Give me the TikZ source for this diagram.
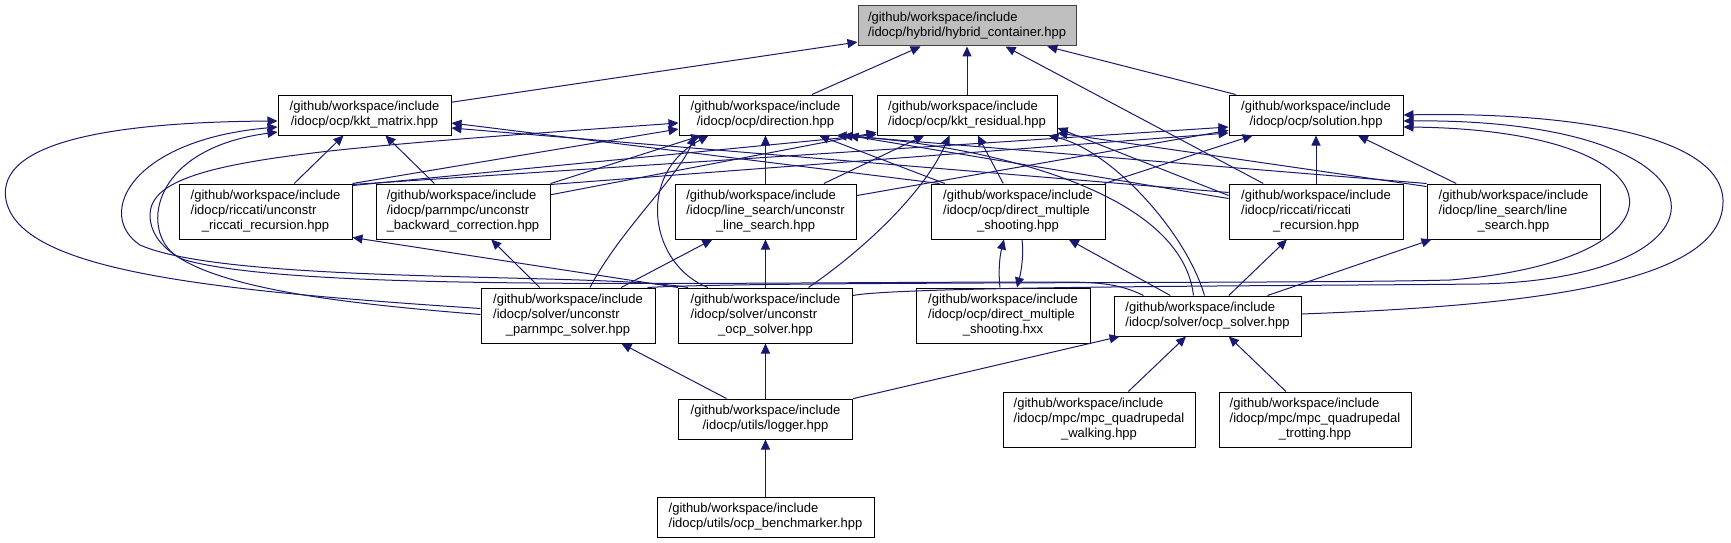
\documentclass[tikz,border=0pt]{standalone}
\usepackage{fontspec}
\setmainfont{Liberation Sans}
\usepackage{xcolor}
\usepackage{tikz}
\usetikzlibrary{arrows.meta,calc}

\definecolor{edgeblue}{HTML}{191970}
\definecolor{maingray}{HTML}{BFBFBF}
\definecolor{mainborder}{HTML}{404040}

% node texts: all lines left, last line centred
\newcommand{\hdrtwo}[1]{\begin{tabular}{@{}l@{}}/github/workspace/include\\
  \multicolumn{1}{@{}c@{}}{#1}\end{tabular}}
\newcommand{\hdrthree}[2]{\begin{tabular}{@{}l@{}}/github/workspace/include\\#1\\
  \multicolumn{1}{@{}c@{}}{#2}\end{tabular}}

\begin{document}
\begin{tikzpicture}[x=1pt,y=-1pt,
    file/.style={draw=black,fill=white,line width=1pt,inner sep=0pt,
                 minimum height=40pt,font=\fontsize{13}{14.8}\selectfont},
    tallfile/.style={file,minimum height=55pt},
    mainfile/.style={file,fill=maingray,draw=mainborder},
    dep/.style={-{Triangle[length=10pt,width=9pt]},draw=edgeblue,line width=1pt}
  ]
    \useasboundingbox (0,0) rectangle (1731,543);
    \node[mainfile,minimum width=218pt] (hybrid) at (967,26)
      {\hdrtwo{/idocp/hybrid/hybrid\_container.hpp}};
    \node[file,minimum width=173pt] (kktmat) at (364.5,115) {\hdrtwo{/idocp/ocp/kkt\_matrix.hpp}};
    \node[file,minimum width=173pt] (dirn) at (765.5,115) {\hdrtwo{/idocp/ocp/direction.hpp}};
    \node[file,minimum width=180pt] (kktres) at (967,115) {\hdrtwo{/idocp/ocp/kkt\_residual.hpp}};
    \node[file,minimum width=174pt] (soln) at (1316,115) {\hdrtwo{/idocp/ocp/solution.hpp}};
    \node[tallfile,minimum width=173pt] (uricc) at (265.5,211.5)
      {\hdrthree{/idocp/riccati/unconstr}{\_riccati\_recursion.hpp}};
    \node[tallfile,minimum width=174pt] (ubwd) at (463,211.5)
      {\hdrthree{/idocp/parnmpc/unconstr}{\_backward\_correction.hpp}};
    \node[tallfile,minimum width=181pt] (uls) at (765.5,211.5)
      {\hdrthree{/idocp/line\_search/unconstr}{\_line\_search.hpp}};
    \node[tallfile,minimum width=174pt] (dmshpp) at (1018,211.5)
      {\hdrthree{/idocp/ocp/direct\_multiple}{\_shooting.hpp}};
    \node[tallfile,minimum width=174pt] (ricc) at (1316,211.5)
      {\hdrthree{/idocp/riccati/riccati}{\_recursion.hpp}};
    \node[tallfile,minimum width=173pt] (lsearch) at (1513.5,211.5)
      {\hdrthree{/idocp/line\_search/line}{\_search.hpp}};
    \node[tallfile,minimum width=174pt] (upmpc) at (568,315.5)
      {\hdrthree{/idocp/solver/unconstr}{\_parnmpc\_solver.hpp}};
    \node[tallfile,minimum width=174pt] (uocp) at (765.5,315.5)
      {\hdrthree{/idocp/solver/unconstr}{\_ocp\_solver.hpp}};
    \node[tallfile,minimum width=174pt] (dmshxx) at (1003,315.5)
      {\hdrthree{/idocp/ocp/direct\_multiple}{\_shooting.hxx}};
    \node[file,minimum width=187pt] (ocpsolv) at (1207.5,316) {\hdrtwo{/idocp/solver/ocp\_solver.hpp}};
    \node[file,minimum width=174pt] (logger) at (765.5,419) {\hdrtwo{/idocp/utils/logger.hpp}};
    \node[tallfile,minimum width=192pt] (walk) at (1099,419.5)
      {\hdrthree{/idocp/mpc/mpc\_quadrupedal}{\_walking.hpp}};
    \node[tallfile,minimum width=192pt] (trot) at (1315,419.5)
      {\hdrthree{/idocp/mpc/mpc\_quadrupedal}{\_trotting.hpp}};
    \node[file,minimum width=217pt] (bench) at (765.5,517)
      {\hdrtwo{/idocp/utils/ocp\_benchmarker.hpp}};
    % hybrid_container
    \draw[dep] (kktmat) -- (hybrid);
    \draw[dep] (dirn) -- (hybrid);
    \draw[dep] (kktres) -- (hybrid);
    \draw[dep] (ricc) -- (hybrid);
    \draw[dep] (soln) -- (hybrid);
    % kkt_matrix
    \draw[dep] (uricc) -- (kktmat);
    \draw[dep] (ubwd) -- (kktmat);
    \draw[dep] ($(dmshpp.north west)+(9,0)$) -- ($(kktmat.east)+(0,8)$);
    \draw[dep] ($(ricc.west)+(0,-19)$) -- ($(kktmat.east)+(0,13)$);
    \draw[dep] ($(upmpc.west)+(0,-7)$) .. controls (200,290) and (20,270) .. (6,200)
      .. controls (-5,140) and (120,122) .. ($(kktmat.west)+(0,6)$);
    \draw[dep] ($(uocp.north west)+(10,0)$) .. controls (600,272) and (230,285) .. (140,245)
      .. controls (95,215) and (130,140) .. ($(kktmat.west)+(0,12)$);
    \draw[dep] ($(ocpsolv.north west)+(30,0)$) .. controls (1120,284) and (1100,282) .. (1060,282)
      .. controls (700,282) and (300,292) .. (185,260)
      .. controls (140,245) and (140,150) .. ($(kktmat.west)+(0,17)$);
    % direction
    \draw[dep] (uricc.north east) -- ($(dirn.west)+(0,14)$);
    \draw[dep] (ubwd) -- (dirn);
    \draw[dep] (uls) -- (dirn);
    \draw[dep] (dmshpp) -- (dirn);
    \draw[dep] ($(ricc.west)+(0,-13)$) -- ($(dirn.south east)+(-4,0)$);
    \draw[dep] (lsearch.north west) -- ($(dirn.south east)+(-10,0)$);
    \draw[dep] ($(upmpc.west)+(0,-1)$) .. controls (300,300) and (150,280) .. (150,215)
      .. controls (150,160) and (300,150) .. ($(dirn.west)+(0,8)$);
    \draw[dep] ($(upmpc.north)+(22,0)$) .. controls (620,230) and (680,175) .. ($(dirn.south west)+(16,0)$);
    \draw[dep] ($(uocp.north west)+(30,0)$) .. controls (650,265) and (635,175) .. ($(dirn.south west)+(30,0)$);
    \draw[dep] ($(ocpsolv.north)+(-14,0)$) .. controls (1180,180) and (950,142) .. ($(dirn.south east)+(-16,0)$);
    % kkt_residual
    \draw[dep] ($(uricc.north east)+(0,2)$) -- ($(kktres.south west)+(0,-1)$);
    \draw[dep] (ubwd) -- (kktres);
    \draw[dep] (uls) -- (kktres);
    \draw[dep] (dmshpp) -- (kktres);
    \draw[dep] ($(ricc.west)+(0,-16)$) -- ($(kktres.east)+(0,13)$);
    \draw[dep] ($(lsearch.north west)+(0,3)$) -- ($(kktres.east)+(0,18)$);
    \draw[dep] ($(uocp.north)+(43,0)$) .. controls (870,245) and (925,190) .. ($(kktres.south west)+(73,0)$);
    \draw[dep] ($(ocpsolv.north)+(-3,0)$) .. controls (1185,230) and (1110,150) .. ($(kktres.south east)+(-9,0)$);
    % solution
    \draw[dep] (ricc) -- (soln);
    \draw[dep] (lsearch) -- (soln);
    \draw[dep] ($(uricc.north east)+(0,1)$) -- ($(soln.west)+(0,12)$);
    \draw[dep] ($(ubwd.north east)+(0,1)$) -- ($(soln.west)+(0,18)$);
    \draw[dep] (uls) -- (soln);
    \draw[dep] (dmshpp) -- (soln);
    \draw[dep] ($(upmpc.north east)+(-8,0)$) .. controls (760,281) and (1300,284) .. (1450,280)
      .. controls (1700,260) and (1690,130) .. ($(soln.east)+(0,12)$);
    \draw[dep] ($(uocp.north east)+(0,8)$) .. controls (900,286) and (1300,286) .. (1480,284)
      .. controls (1750,278) and (1740,118) .. ($(soln.east)+(0,6)$);
    \draw[dep] ($(ocpsolv.east)+(0,-2)$) .. controls (1550,305) and (1725,280) .. (1723,200)
      .. controls (1720,130) and (1550,112) .. (soln.east);
    % solvers and below
    \draw[dep] (uocp.north west) -- ($(uricc.east)+(0,26)$);
    \draw[dep] (upmpc) -- (ubwd);
    \draw[dep] (upmpc) -- (uls);
    \draw[dep] (uocp) -- (uls);
    \draw[dep] ($(dmshxx.north)+(-3,0)$) .. controls (998,270) and (1000,255) .. ($(dmshpp.south)+(-14,0)$);
    \draw[dep] ($(dmshpp.south)+(4,0)$) .. controls (1024,255) and (1021,272) .. ($(dmshxx.north)+(14,0)$);
    \draw[dep] (ocpsolv) -- (dmshpp);
    \draw[dep] (ocpsolv) -- (ricc);
    \draw[dep] (ocpsolv) -- (lsearch);
    \draw[dep] (logger) -- (ocpsolv);
    \draw[dep] (walk) -- (ocpsolv);
    \draw[dep] (trot) -- (ocpsolv);
    \draw[dep] (logger) -- (upmpc);
    \draw[dep] (logger) -- (uocp);
    \draw[dep] (bench) -- (logger);
  \end{tikzpicture}
\end{document}
